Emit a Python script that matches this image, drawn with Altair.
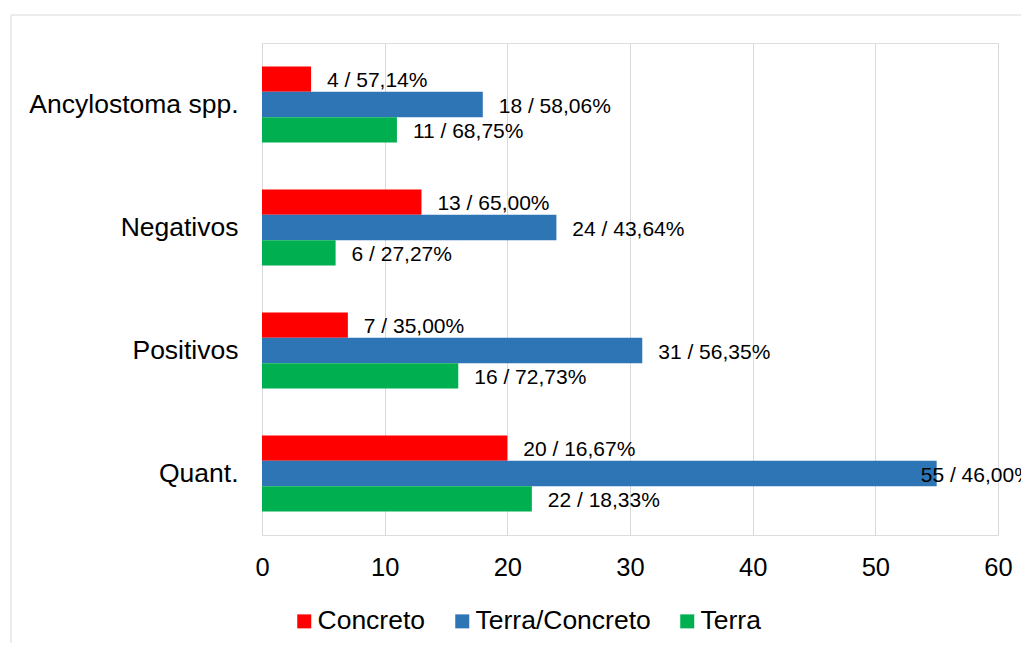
import altair as alt
import pandas as pd

categories = ["Ancylostoma spp.", "Negativos", "Positivos", "Quant."]
series = ["Concreto", "Terra/Concreto", "Terra"]
colors = ["#FF0000", "#2E75B6", "#00B050"]

concreto = [4, 13, 7, 20]
concreto_pct = ["57,14%", "65,00%", "35,00%", "16,67%"]
terra_concreto = [18, 24, 31, 55]
terra_concreto_pct = ["58,06%", "43,64%", "56,35%", "46,00%"]
terra = [11, 6, 16, 22]
terra_pct = ["68,75%", "27,27%", "72,73%", "18,33%"]

x_ticks = [0, 10, 20, 30, 40, 50, 60]

rows = []
for s, vals, pcts in zip(series, [concreto, terra_concreto, terra],
                         [concreto_pct, terra_concreto_pct, terra_pct]):
    for c, v, p in zip(categories, vals, pcts):
        rows.append({"cat": c, "series": s, "n": v, "label": f"{v} / {p}"})
df = pd.DataFrame(rows)

FONT = "Liberation Sans"

y_enc = alt.Y("cat:N", sort=categories,
              scale=alt.Scale(paddingInner=0.382, paddingOuter=0.191),
              axis=alt.Axis(title=None, labelFontSize=26.5, labelPadding=24,
                            ticks=False, domain=False, labelColor="black",
                            labelFont=FONT, labelLimit=0))
yoff = alt.YOffset("series:N", sort=series,
                   scale=alt.Scale(domain=series, paddingInner=0, paddingOuter=0))

base = alt.Chart(df)

bars = base.mark_bar().encode(
    x=alt.X("n:Q", scale=alt.Scale(domain=[0, 60], nice=False),
            axis=alt.Axis(title=None, values=x_ticks, grid=True, gridColor="#D9D9D9",
                          gridWidth=1, domain=False, ticks=False, labelFontSize=25.5,
                          labelPadding=20, labelColor="black", labelFont=FONT,
                          labelFlush=False)),
    y=y_enc,
    yOffset=yoff,
    color=alt.Color("series:N", sort=series,
                    scale=alt.Scale(domain=series, range=colors),
                    legend=alt.Legend(title=None, orient="none", legendX=29, legendY=565,
                                      direction="horizontal", symbolType="square",
                                      symbolSize=196, symbolStrokeWidth=0,
                                      labelFontSize=26.5, labelFont=FONT, labelColor="black",
                                      labelOffset=0, columnPadding=23, labelLimit=0)),
)

labels = base.transform_calculate(
    lx="datum.n + (datum.n > 50 ? -1.3 : 1.3)"
).mark_text(align="left", baseline="middle", dy=2, fontSize=21, font=FONT,
            color="black", clip=False).encode(
    x=alt.X("lx:Q"),
    y=y_enc,
    yOffset=yoff,
    text="label:N",
)

border = alt.Chart(alt.Data(values=[{}])).mark_rect(
    filled=False, stroke="#D9D9D9", strokeWidth=1, clip=False
).encode(
    x=alt.value(-251), x2=alt.value(820), y=alt.value(-28), y2=alt.value(700)
)

chart = alt.layer(border, bars, labels).properties(
    width=736, height=492,
    autosize=alt.AutoSizeParams(type="none"),
    padding={"left": 254, "top": 35, "right": 23, "bottom": 108},
).configure_view(stroke=None).configure(font=FONT)

chart.save("out.html", embed_options={"renderer": "svg", "actions": False})
